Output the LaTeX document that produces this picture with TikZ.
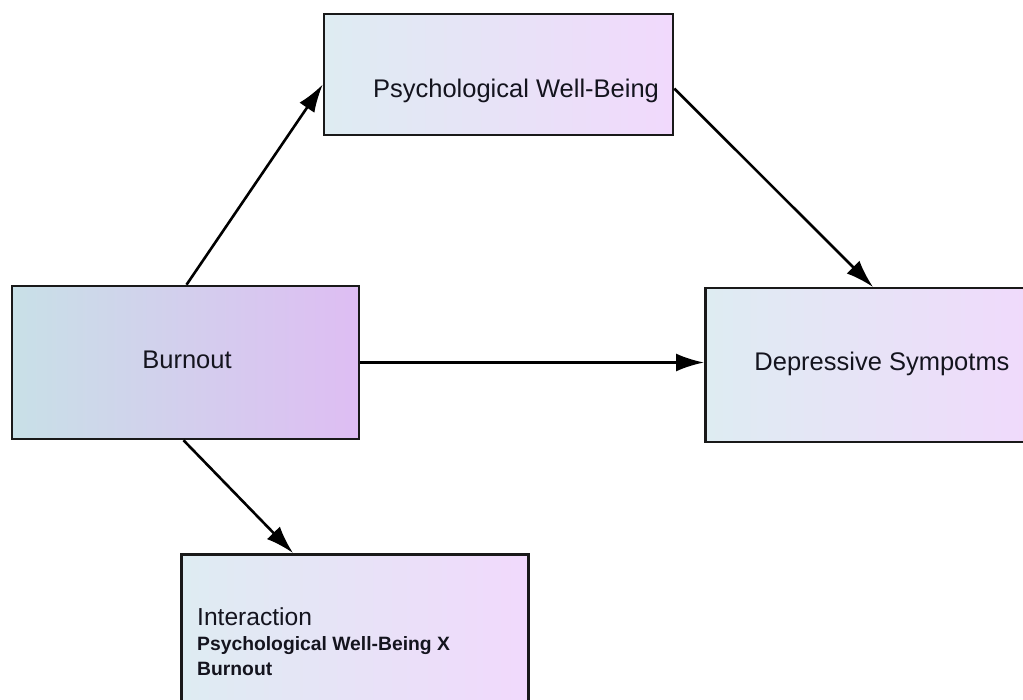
\documentclass[tikz,border=0pt]{standalone}
\usepackage{fontspec}
\setmainfont{Liberation Sans}
\usetikzlibrary{arrows.meta}
\definecolor{lightL}{RGB}{222,236,242}
\definecolor{lightR}{RGB}{241,217,252}
\definecolor{darkL}{RGB}{200,224,231}
\definecolor{darkR}{RGB}{222,189,243}
\definecolor{txt}{RGB}{20,20,30}
\tikzset{
  box/.style={draw=black!90, line width=2.5pt, rectangle, inner sep=0pt, shading=axis, shading angle=90, left color=lightL, right color=lightR},
  darkbox/.style={box, left color=darkL, right color=darkR},
  lbl/.style={inner sep=0pt, text=txt, font=\fontsize{25.5}{30}\selectfont},
  boldlbl/.style={inner sep=0pt, text=txt, font=\fontsize{19.3}{25}\selectfont\bfseries},
  conn/.style={line width=2.6pt, draw=black, -{Latex[length=28pt,width=18pt]}}
}
\begin{document}
\begin{tikzpicture}[x=1pt,y=-1pt]
\useasboundingbox (0,0) rectangle (1023,700);
\begin{scope}
\clip (0,0) rectangle (1023,700);
\node[box, minimum width=349pt, minimum height=121pt] (P) at (498.5,74.5) {};
\node[darkbox, minimum width=347pt, minimum height=153pt] (B) at (185.5,362.5) {};
\node[box, minimum width=340pt, minimum height=154pt, anchor=north west] (D) at (704,287) {};
\node[box, minimum width=347pt, minimum height=170pt, anchor=north west] (I) at (180,553) {};
\end{scope}
\node[lbl, anchor=base] (Pt) at (516,98) {Psychological Well-Being};
\node[lbl, anchor=base] (Bt) at (187,369) {Burnout};
\node[lbl, anchor=base] (Dt) at (882,371) {Depressive Sympotms};
\node[lbl, anchor=base west, font=\fontsize{24.6}{30}\selectfont] (It1) at (197,625) {Interaction};
\node[boldlbl, anchor=base west] (It2) at (197,650) {Psychological Well-Being X};
\node[boldlbl, anchor=base west] (It3) at (197,675) {Burnout};
\draw[conn] ([xshift=1pt]B.north) -- ([yshift=-10pt]P.west);
\draw[conn] ([yshift=-14pt]P.east) -- ([xshift=169pt]D.north west);
\draw[conn] (B.east) -- (B.east -| D.west);
\draw[conn] ([xshift=-2pt]B.south) -- ([xshift=113pt]I.north west);
\end{tikzpicture}
\end{document}
